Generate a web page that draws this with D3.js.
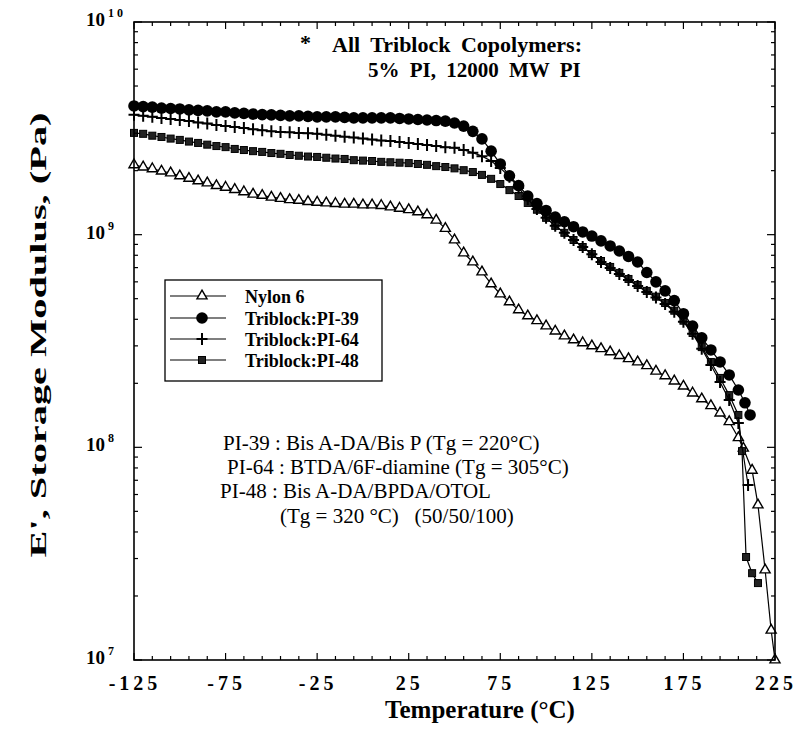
<!DOCTYPE html>
<html>
<head>
<meta charset="utf-8">
<script src="https://cdn.jsdelivr.net/npm/d3@7"></script>
<style>
  body { margin: 0; background: #fff; }
  text { font-family: "Liberation Serif", "Times New Roman", serif; fill: #000; }
</style>
</head>
<body>
<svg width="802" height="737"></svg>
<script>
// temperatures (deg C) shared by the smooth part of every curve
var tempGrid = [-125, -120, -115, -110, -105, -100, -95, -90, -85, -80,
  -75, -70, -65, -60, -55, -50, -45, -40, -35, -30,
  -25, -20, -15, -10, -5, 0, 5, 10, 15, 20,
  25, 30, 35, 40, 45, 50, 55, 60, 65, 70,
  75, 80, 85, 90, 95, 100, 105, 110, 115, 120,
  125, 130, 135, 140, 145, 150, 155, 160, 165, 170,
  175, 180, 185, 190, 195, 200];

// E' (Pa)
var nylonE = [2.13e9, 2.08e9, 2.04e9, 1.99e9, 1.95e9, 1.89e9, 1.84e9, 1.79e9, 1.75e9, 1.70e9,
  1.67e9, 1.63e9, 1.59e9, 1.55e9, 1.53e9, 1.50e9, 1.48e9, 1.46e9, 1.45e9, 1.43e9,
  1.42e9, 1.41e9, 1.40e9, 1.39e9, 1.39e9, 1.38e9, 1.38e9, 1.37e9, 1.35e9, 1.33e9,
  1.31e9, 1.28e9, 1.24e9, 1.17e9, 1.07e9, 9.44e8, 8.2e8, 7.44e8, 6.68e8, 5.87e8,
  5.26e8, 4.83e8, 4.43e8, 4.15e8, 3.94e8, 3.72e8, 3.52e8, 3.34e8, 3.20e8, 3.10e8,
  3.00e8, 2.91e8, 2.81e8, 2.70e8, 2.61e8, 2.52e8, 2.42e8, 2.28e8, 2.17e8, 2.05e8,
  1.94e8, 1.80e8, 1.69e8, 1.57e8, 1.45e8, 1.32e8];
var nylonTailT = [205, 207.7, 212.5, 215.7, 219.6, 222.9, 225];
var nylonTailE = [1.11e8, 9.9e7, 7.8e7, 5.36e7, 2.65e7, 1.38e7, 1.0e7];

var pi39E = [4.03e9, 4.00e9, 3.98e9, 3.94e9, 3.92e9, 3.90e9, 3.86e9, 3.84e9, 3.82e9, 3.78e9,
  3.78e9, 3.74e9, 3.72e9, 3.69e9, 3.67e9, 3.66e9, 3.64e9, 3.62e9, 3.62e9, 3.60e9,
  3.58e9, 3.58e9, 3.58e9, 3.56e9, 3.54e9, 3.54e9, 3.54e9, 3.54e9, 3.54e9, 3.52e9,
  3.50e9, 3.48e9, 3.46e9, 3.44e9, 3.42e9, 3.35e9, 3.24e9, 3.06e9, 2.82e9, 2.47e9,
  2.15e9, 1.89e9, 1.70e9, 1.52e9, 1.40e9, 1.30e9, 1.21e9, 1.15e9, 1.09e9, 1.03e9,
  9.85e8, 9.35e8, 8.85e8, 8.38e8, 7.9e8, 7.44e8, 6.64e8, 6.0e8, 5.44e8, 4.9e8,
  4.25e8, 3.72e8, 3.27e8, 2.87e8, 2.52e8, 2.19e8];
var pi39TailT = [205, 208.6, 211.4];
var pi39TailE = [1.86e8, 1.62e8, 1.42e8];

var pi64E = [3.66e9, 3.62e9, 3.58e9, 3.54e9, 3.50e9, 3.46e9, 3.42e9, 3.37e9, 3.33e9, 3.28e9,
  3.24e9, 3.21e9, 3.17e9, 3.13e9, 3.10e9, 3.06e9, 3.04e9, 3.03e9, 3.01e9, 3.00e9,
  2.98e9, 2.95e9, 2.92e9, 2.89e9, 2.86e9, 2.83e9, 2.80e9, 2.77e9, 2.76e9, 2.73e9,
  2.70e9, 2.67e9, 2.64e9, 2.61e9, 2.58e9, 2.56e9, 2.50e9, 2.43e9, 2.34e9, 2.22e9,
  2.06e9, 1.87e9, 1.66e9, 1.47e9, 1.32e9, 1.20e9, 1.10e9, 1.02e9, 9.44e8, 8.75e8,
  8.1e8, 7.44e8, 6.97e8, 6.54e8, 6.12e8, 5.74e8, 5.38e8, 5.07e8, 4.72e8, 4.34e8,
  3.90e8, 3.42e8, 2.91e8, 2.44e8, 2.03e8, 1.67e8];
var pi64TailT = [205, 210.3];
var pi64TailE = [1.30e8, 6.65e7];

var pi48E = [3.01e9, 2.98e9, 2.92e9, 2.88e9, 2.83e9, 2.79e9, 2.74e9, 2.70e9, 2.65e9, 2.61e9,
  2.58e9, 2.53e9, 2.50e9, 2.47e9, 2.45e9, 2.42e9, 2.40e9, 2.37e9, 2.35e9, 2.33e9,
  2.32e9, 2.30e9, 2.28e9, 2.27e9, 2.24e9, 2.23e9, 2.22e9, 2.20e9, 2.19e9, 2.18e9,
  2.17e9, 2.15e9, 2.13e9, 2.10e9, 2.08e9, 2.05e9, 2.01e9, 1.97e9, 1.91e9, 1.83e9,
  1.73e9, 1.62e9, 1.52e9, 1.41e9, 1.31e9, 1.20e9, 1.10e9, 1.02e9, 9.44e8, 8.75e8,
  8.11e8, 7.52e8, 7.05e8, 6.61e8, 6.19e8, 5.80e8, 5.44e8, 5.11e8, 4.77e8, 4.39e8,
  3.94e8, 3.45e8, 2.96e8, 2.52e8, 2.12e8, 1.76e8];
var pi48TailT = [205, 207, 209.2, 212.5, 215.7];
var pi48TailE = [1.42e8, 9.6e7, 3.05e7, 2.56e7, 2.30e7];

var xTickLabels = ["-125", "-75", "-25", "25", "75", "125", "175", "225"];
var xTickValues = [-125, -75, -25, 25, 75, 125, 175, 225];
var yDecades = [1e7, 1e8, 1e9, 1e10];
var yExponents = ["7", "8", "9", "10"];

var legendNames = ["Nylon 6", "Triblock:PI-39", "Triblock:PI-64", "Triblock:PI-48"];
var noteLines = ["PI-39 : Bis A-DA/Bis P (Tg = 220\u00B0C)",
  "PI-64 : BTDA/6F-diamine (Tg = 305\u00B0C)",
  "PI-48 : Bis A-DA/BPDA/OTOL",
  "(Tg = 320 \u00B0C)   (50/50/100)"];

var svg = d3.select("svg");

svg.append("rect").attr("width", 802).attr("height", 737).attr("fill", "#fff");

var x = d3.scaleLinear().domain([-125, 225]).range([134, 775]);
var y = d3.scaleLog().domain([1e7, 1e10]).range([660, 22]);

function makeSeries(vals, tailT, tailE) {
  var pts = tempGrid.map(function (t, i) { return {t: t, e: vals[i]}; });
  tailT.forEach(function (t, i) { pts.push({t: t, e: tailE[i]}); });
  return pts;
}

var series = [
  {name: "nylon", pts: makeSeries(nylonE, nylonTailT, nylonTailE)},
  {name: "pi48", pts: makeSeries(pi48E, pi48TailT, pi48TailE)},
  {name: "pi64", pts: makeSeries(pi64E, pi64TailT, pi64TailE)},
  {name: "pi39", pts: makeSeries(pi39E, pi39TailT, pi39TailE)}
];

// marker drawing for each series
var triangle = d3.symbol().type(d3.symbolTriangle).size(44);

function drawMarker(g, name) {
  if (name == "nylon") {
    g.append("path").attr("d", triangle)
      .attr("fill", "#fff").attr("stroke", "#000").attr("stroke-width", 1.4);
  } else if (name == "pi39") {
    g.append("circle").attr("r", 5.8).attr("fill", "#000");
  } else if (name == "pi64") {
    g.append("path").attr("d", "M-5.5,0H5.5M0,-6V6")
      .attr("stroke", "#000").attr("stroke-width", 2);
  } else {
    g.append("rect").attr("x", -3.5).attr("y", -3.5).attr("width", 7).attr("height", 7)
      .attr("fill", "#222").attr("stroke", "#000").attr("stroke-width", 1);
  }
}

var line = d3.line()
  .x(function (d) { return x(d.t); })
  .y(function (d) { return y(d.e); });

var plot = svg.append("g");

series.forEach(function (s) {
  plot.append("path")
    .datum(s.pts)
    .attr("d", line)
    .attr("fill", "none")
    .attr("stroke", "#000")
    .attr("stroke-width", 1.2);

  plot.append("g").selectAll("g")
    .data(s.pts)
    .enter().append("g")
    .attr("transform", function (d) { return "translate(" + x(d.t) + "," + y(d.e) + ")"; })
    .each(function () { drawMarker(d3.select(this), s.name); });
});

// frame
svg.append("rect")
  .attr("x", x(-125)).attr("y", y(1e10))
  .attr("width", x(225) - x(-125)).attr("height", y(1e7) - y(1e10))
  .attr("fill", "none").attr("stroke", "#000").attr("stroke-width", 1.6);

// x ticks, bottom and top, pointing inward
var xTicks = d3.range(-125, 226, 10);
xTicks.forEach(function (t) {
  var big = (t + 125) % 50 == 0;
  var len = big ? 7 : 4;
  svg.append("line").attr("x1", x(t)).attr("x2", x(t))
    .attr("y1", y(1e7)).attr("y2", y(1e7) - len)
    .attr("stroke", "#000").attr("stroke-width", 1.2);
  svg.append("line").attr("x1", x(t)).attr("x2", x(t))
    .attr("y1", y(1e10)).attr("y2", y(1e10) + len)
    .attr("stroke", "#000").attr("stroke-width", 1.2);
});

// y ticks, log minors, left and right
y.ticks().forEach(function (v) {
  var big = yDecades.indexOf(v) >= 0;
  var len = big ? 8 : 4;
  svg.append("line").attr("x1", x(-125)).attr("x2", x(-125) + len)
    .attr("y1", y(v)).attr("y2", y(v))
    .attr("stroke", "#000").attr("stroke-width", 1.2);
  svg.append("line").attr("x1", x(225)).attr("x2", x(225) - len)
    .attr("y1", y(v)).attr("y2", y(v))
    .attr("stroke", "#000").attr("stroke-width", 1.2);
});

// x tick labels
xTickValues.forEach(function (v, i) {
  svg.append("text")
    .attr("x", x(v) + 1)
    .attr("y", 690)
    .attr("text-anchor", "middle")
    .style("font-size", "20px")
    .style("font-weight", "bold")
    .style("letter-spacing", "4px")
    .text(xTickLabels[i]);
});

// y tick labels as 10 with raised exponent
yDecades.forEach(function (v, i) {
  svg.append("text")
    .attr("x", 105)
    .attr("y", y(v) + 4)
    .attr("text-anchor", "end")
    .style("font-size", "19px")
    .style("font-weight", "bold")
    .text("10");
  svg.append("text")
    .attr("x", 108)
    .attr("y", y(v) - 5)
    .style("font-size", "12px")
    .style("font-weight", "bold")
    .style("letter-spacing", "3px")
    .text(yExponents[i]);
});

// axis titles
svg.append("text")
  .attr("x", 480)
  .attr("y", 718)
  .attr("text-anchor", "middle")
  .style("font-size", "25px")
  .style("font-weight", "bold")
  .text("Temperature (\u00B0C)");

svg.append("text")
  .attr("transform", "translate(46,335) rotate(-90)")
  .attr("text-anchor", "middle")
  .attr("textLength", 445)
  .attr("lengthAdjust", "spacingAndGlyphs")
  .style("font-size", "23px")
  .style("font-weight", "bold")
  .text("E', Storage Modulus, (Pa)");

// top note
svg.append("text").attr("x", 300).attr("y", 50)
  .style("font-size", "22px").style("font-weight", "bold").text("*");
svg.append("text").attr("x", 332).attr("y", 52)
  .style("font-size", "22px").style("font-weight", "bold").style("word-spacing", "5px")
  .text("All Triblock Copolymers:");
svg.append("text").attr("x", 368).attr("y", 77)
  .style("font-size", "21px").style("font-weight", "bold").style("word-spacing", "5px")
  .text("5% PI, 12000 MW PI");

// polymer notes
var noteX = [223, 227, 220, 280];
var noteY = [450, 474, 498, 523];
noteLines.forEach(function (s, i) {
  svg.append("text")
    .attr("x", noteX[i]).attr("y", noteY[i])
    .style("font-size", "21px")
    .style("white-space", "pre")
    .text(s);
});

// legend
var legend = svg.append("g");
legend.append("rect")
  .attr("x", 165).attr("y", 280).attr("width", 217).attr("height", 101)
  .attr("fill", "#fff").attr("stroke", "#000").attr("stroke-width", 1.3);

var legendKeys = ["nylon", "pi39", "pi64", "pi48"];
var legendRowY = [296, 318, 339, 360];
legendKeys.forEach(function (k, i) {
  var ly = legendRowY[i];
  legend.append("line").attr("x1", 170).attr("x2", 226).attr("y1", ly).attr("y2", ly)
    .attr("stroke", "#000").attr("stroke-width", 1.1);
  var g = legend.append("g").attr("transform", "translate(202," + ly + ")");
  drawMarker(g, k);
  legend.append("text")
    .attr("x", 245).attr("y", ly + 7)
    .style("font-size", "18px")
    .style("font-weight", "bold")
    .text(legendNames[i]);
});
</script>
</body>
</html>
